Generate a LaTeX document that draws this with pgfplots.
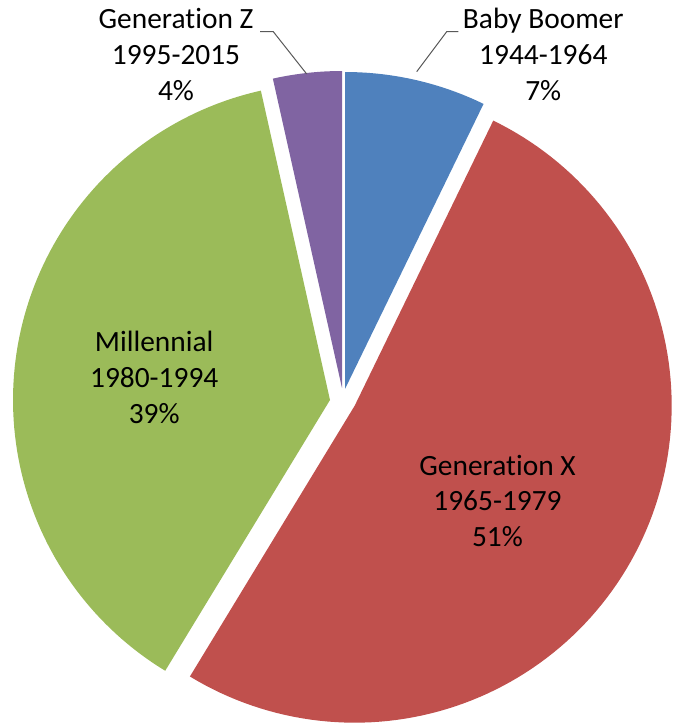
\documentclass[border=0pt]{standalone}
\usepackage{pgfplots}
\pgfplotsset{compat=1.18}
\usepackage{fontspec}
\setmainfont{Carlito}[Ligatures={NoCommon}]
\definecolor{cBoom}{HTML}{4F81BD}
\definecolor{cGenX}{HTML}{C0504D}
\definecolor{cMill}{HTML}{9BBB59}
\definecolor{cGenZ}{HTML}{8064A2}
\definecolor{cLead}{HTML}{595959}
% shares (percent) of the slices, clockwise from 12 o'clock
\def\sBoom{7.2}
\def\sGenX{51.5}
\def\sMill{37.8}
\def\sGenZ{3.5}
\def\rad{317}
\newcommand\Gen{Generat\kern0pt ion}
\begin{document}
\begin{tikzpicture}
\pgfmathsetmacro\aO{90}
\pgfmathsetmacro\aA{90-3.6*\sBoom}
\pgfmathsetmacro\aB{\aA-3.6*\sGenX}
\pgfmathsetmacro\aC{\aB-3.6*\sMill}
\pgfmathsetmacro\aD{\aC-3.6*\sGenZ}
\begin{axis}[
  scale only axis, width=339pt, height=362.5pt,
  xmin=0, xmax=678, ymin=0, ymax=725,
  hide axis, clip=false,
  trig format plots=deg,
]
\path (axis cs:0,0) rectangle (axis cs:678,725);
% Baby Boomer
\addplot[fill=cBoom, draw=none, domain=\aA:\aO, samples=40, variable=\t]
  ({345+\rad*cos(\t)},{336+\rad*sin(\t)}) -- (axis cs:345,336) -- cycle;
% Generation X (exploded)
\addplot[fill=cGenX, draw=none, domain=\aB:\aA, samples=120, variable=\t]
  ({354.7+\rad*cos(\t)},{319.3+\rad*sin(\t)}) -- (axis cs:354.7,319.3) -- cycle;
% Millennial
\addplot[fill=cMill, draw=none, domain=\aC:\aB, samples=100, variable=\t]
  ({330+\rad*cos(\t)},{325+\rad*sin(\t)}) -- (axis cs:330,325) -- cycle;
% Generation Z
\addplot[fill=cGenZ, draw=none, domain=\aD:\aC, samples=30, variable=\t]
  ({342+\rad*cos(\t)},{337+\rad*sin(\t)}) -- (axis cs:342,337) -- cycle;
% leader lines
\draw[cLead, line width=0.5pt] (axis cs:260,693.3) -- (axis cs:273.3,693.3) -- (axis cs:306.7,651);
\draw[cLead, line width=0.5pt] (axis cs:458.3,693.3) -- (axis cs:446.7,693.3) -- (axis cs:416.7,653.3);
% labels
\begin{scope}[every node/.style={align=center, inner sep=0pt, font=\fontsize{14.7}{17.9}\selectfont}]
\node at (axis cs:497.5,224) {\Gen{} X\\1965-1979\\51\%};
\node at (axis cs:154.2,347.5) {Millennial\\1980-1994\\39\%};
\node at (axis cs:176,670.5) {\Gen{} Z\\1995-2015\\4\%};
\node at (axis cs:543.3,670.5) {Baby Boomer\\1944-1964\\7\%};
\end{scope}
\end{axis}
\end{tikzpicture}
\end{document}
